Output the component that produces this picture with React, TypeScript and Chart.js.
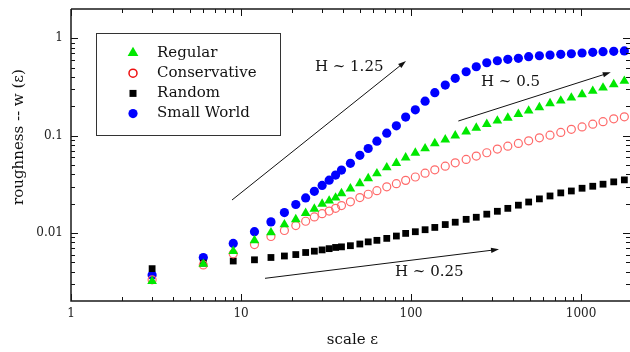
import React, { useEffect, useRef } from 'react';
import { Chart, registerables } from 'chart.js';

Chart.register(...registerables);

// ---- data ----
const scaleX = [3, 6, 9, 12, 15, 18, 21, 24, 27, 30, 33, 36, 39, 44, 50, 56, 63, 72, 82, 93, 106, 121, 138, 159, 182, 211, 242, 279, 322, 371, 428, 492, 569, 657, 760, 877, 1014, 1172, 1347, 1557, 1798];
const regular = [0.0032, 0.0048, 0.0065, 0.0084, 0.0101, 0.0122, 0.0138, 0.016, 0.0177, 0.0199, 0.0214, 0.023, 0.0255, 0.0285, 0.0323, 0.0363, 0.0408, 0.047, 0.0522, 0.0595, 0.0665, 0.0738, 0.0832, 0.091, 0.1, 0.11, 0.12, 0.131, 0.142, 0.152, 0.166, 0.18, 0.195, 0.214, 0.228, 0.245, 0.265, 0.287, 0.31, 0.336, 0.364];
const conservative = [0.0033, 0.0047, 0.0061, 0.0076, 0.0092, 0.0106, 0.0119, 0.0132, 0.0146, 0.0158, 0.0168, 0.0179, 0.0191, 0.0209, 0.0231, 0.025, 0.0272, 0.0298, 0.0321, 0.0347, 0.0376, 0.0411, 0.0445, 0.0485, 0.0526, 0.0569, 0.0616, 0.0667, 0.0727, 0.078, 0.0832, 0.0885, 0.0949, 0.101, 0.108, 0.116, 0.123, 0.131, 0.139, 0.149, 0.156];
const random = [0.0043, 0.0049, 0.00515, 0.0053, 0.0056, 0.0058, 0.006, 0.0063, 0.0065, 0.0067, 0.0069, 0.0071, 0.0072, 0.0074, 0.0077, 0.0081, 0.0084, 0.0088, 0.0093, 0.0099, 0.0103, 0.0108, 0.0114, 0.0122, 0.0129, 0.0138, 0.0145, 0.0156, 0.0167, 0.0179, 0.0193, 0.0208, 0.0224, 0.024, 0.0258, 0.027, 0.0288, 0.0302, 0.0317, 0.0335, 0.0351];
const smallWorld = [0.0037, 0.0056, 0.0078, 0.0103, 0.013, 0.0162, 0.0196, 0.0229, 0.0268, 0.0308, 0.0349, 0.0393, 0.0443, 0.052, 0.0628, 0.0738, 0.0878, 0.106, 0.126, 0.155, 0.184, 0.226, 0.276, 0.331, 0.388, 0.453, 0.51, 0.561, 0.588, 0.608, 0.623, 0.647, 0.662, 0.673, 0.684, 0.694, 0.706, 0.718, 0.728, 0.735, 0.742];
const seriesNames = ['Regular', 'Conservative', 'Random', 'Small World'];

const xTickValues = [1, 10, 100, 1000];
const xTickLabels = ['1', '10', '100', '1000'];
const yTickValues = [0.01, 0.1, 1];
const yTickLabels = ['0.01', '0.1', '1'];
const xTitle = 'scale ε';
const yTitle = 'roughness -- w (ε)';

// slope annotations in data coordinates
const noteTexts = ['H ~ 1.25', 'H ~ 0.5', 'H ~ 0.25'];
const noteFrom = [[8.85, 0.0218], [189.8, 0.1413], [13.84, 0.00342]];
const noteTo = [[93.4, 0.584], [1495, 0.447], [329.3, 0.00679]];
const noteAt = [[27.2, 0.511], [258, 0.358], [80.5, 0.004]];

const X_MIN = 1;
const X_MAX = 1941;
const Y_MIN = 0.002;
const Y_MAX = 2;

// plot-area frame in canvas pixels
const AREA = { left: 71, top: 9, right: 630, bottom: 301 };

const FONT = "'DejaVu Serif', serif";
const GREEN = '#00e800';
const RED_PT = '#ff6a6a';
const RED_LEG = '#ee1010';
const BLUE = '#0000ff';

function drawMarker(ctx: CanvasRenderingContext2D, kind: number, x: number, y: number) {
  ctx.save();
  if (kind === 0) {
    const r = 6.2;
    ctx.fillStyle = GREEN;
    ctx.beginPath();
    ctx.moveTo(x, y - r);
    ctx.lineTo(x + r * Math.sin((2 * Math.PI) / 3), y - r * Math.cos((2 * Math.PI) / 3));
    ctx.lineTo(x + r * Math.sin((4 * Math.PI) / 3), y - r * Math.cos((4 * Math.PI) / 3));
    ctx.closePath();
    ctx.fill();
  } else if (kind === 1) {
    ctx.strokeStyle = RED_LEG;
    ctx.lineWidth = 1.5;
    ctx.beginPath();
    ctx.arc(x, y, 4, 0, Math.PI * 2);
    ctx.stroke();
  } else if (kind === 2) {
    ctx.fillStyle = '#000';
    ctx.fillRect(x - 3.5, y - 3.5, 7, 7);
  } else {
    ctx.fillStyle = BLUE;
    ctx.beginPath();
    ctx.arc(x, y, 4.6, 0, Math.PI * 2);
    ctx.fill();
  }
  ctx.restore();
}

const framePlugin = {
  id: 'frameNotes',
  afterLayout(chart: any) {
    const a = chart.chartArea;
    a.left = AREA.left;
    a.right = AREA.right;
    a.top = AREA.top;
    a.bottom = AREA.bottom;
    a.width = AREA.right - AREA.left;
    a.height = AREA.bottom - AREA.top;
    const xs = chart.scales.x;
    const ys = chart.scales.y;
    xs.left = AREA.left;
    xs.right = AREA.right;
    xs.width = AREA.right - AREA.left;
    xs.top = AREA.bottom;
    xs.bottom = chart.height;
    xs.height = chart.height - AREA.bottom;
    xs.configure();
    ys.left = 0;
    ys.right = AREA.left;
    ys.width = AREA.left;
    ys.top = AREA.top;
    ys.bottom = AREA.bottom;
    ys.height = AREA.bottom - AREA.top;
    ys.configure();
  },
  afterDraw(chart: any) {
    const { ctx, chartArea: a, scales } = chart;
    const xs = scales.x;
    const ys = scales.y;
    ctx.save();

    // tick marks (inward, all four sides)
    ctx.strokeStyle = '#111';
    ctx.lineWidth = 1;
    ctx.beginPath();
    for (let n = -3; n <= 4; n++) {
      for (let k = 1; k <= 9; k++) {
        const v = k * Math.pow(10, n);
        const len = k === 1 ? 7 : 4;
        if (v >= X_MIN && v <= X_MAX) {
          const px = Math.round(xs.getPixelForValue(v)) + 0.5;
          ctx.moveTo(px, a.bottom);
          ctx.lineTo(px, a.bottom - len);
          ctx.moveTo(px, a.top);
          ctx.lineTo(px, a.top + len);
        }
        if (v > Y_MIN * 1.0001 && v < Y_MAX * 0.9999) {
          const py = Math.round(ys.getPixelForValue(v)) + 0.5;
          ctx.moveTo(a.left, py);
          ctx.lineTo(a.left + len, py);
          ctx.moveTo(a.right, py);
          ctx.lineTo(a.right - len, py);
        }
      }
    }
    ctx.stroke();

    // frame
    ctx.strokeStyle = '#1a1a1a';
    ctx.lineWidth = 1.5;
    ctx.beginPath();
    ctx.moveTo(a.left, a.top);
    ctx.lineTo(a.left, a.bottom);
    ctx.lineTo(a.right, a.bottom);
    ctx.moveTo(a.left, a.top);
    ctx.lineTo(a.right, a.top);
    ctx.stroke();

    // slope arrows
    ctx.strokeStyle = '#111';
    ctx.fillStyle = '#111';
    ctx.lineWidth = 1;
    for (let i = 0; i < noteTexts.length; i++) {
      const x1 = xs.getPixelForValue(noteFrom[i][0]);
      const y1 = ys.getPixelForValue(noteFrom[i][1]);
      const x2 = xs.getPixelForValue(noteTo[i][0]);
      const y2 = ys.getPixelForValue(noteTo[i][1]);
      const ang = Math.atan2(y2 - y1, x2 - x1);
      const hl = 8;
      const hw = 2.6;
      ctx.beginPath();
      ctx.moveTo(x1, y1);
      ctx.lineTo(x2 - Math.cos(ang) * hl * 0.8, y2 - Math.sin(ang) * hl * 0.8);
      ctx.stroke();
      ctx.beginPath();
      ctx.moveTo(x2, y2);
      ctx.lineTo(x2 - Math.cos(ang) * hl - Math.sin(ang) * hw, y2 - Math.sin(ang) * hl + Math.cos(ang) * hw);
      ctx.lineTo(x2 - Math.cos(ang) * hl + Math.sin(ang) * hw, y2 - Math.sin(ang) * hl - Math.cos(ang) * hw);
      ctx.closePath();
      ctx.fill();

      ctx.font = `15px ${FONT}`;
      ctx.textAlign = 'left';
      ctx.textBaseline = 'middle';
      ctx.fillText(noteTexts[i], xs.getPixelForValue(noteAt[i][0]), ys.getPixelForValue(noteAt[i][1]));
    }

    // axis titles
    ctx.fillStyle = '#111';
    ctx.font = `15px ${FONT}`;
    ctx.textAlign = 'center';
    ctx.textBaseline = 'middle';
    ctx.fillText(xTitle, (a.left + a.right) / 2 + 2, 340);
    ctx.save();
    ctx.translate(19, 137);
    ctx.rotate(-Math.PI / 2);
    ctx.fillText(yTitle, 0, 0);
    ctx.restore();

    // legend
    const bx = 96.5, by = 33.5, bw = 184, bh = 102;
    ctx.fillStyle = '#fff';
    ctx.fillRect(bx, by, bw, bh);
    ctx.strokeStyle = '#333';
    ctx.lineWidth = 1;
    ctx.strokeRect(bx, by, bw, bh);
    ctx.font = `15px ${FONT}`;
    ctx.textAlign = 'left';
    ctx.textBaseline = 'middle';
    for (let i = 0; i < seriesNames.length; i++) {
      const cy = by + 19.5 + i * 20.2;
      drawMarker(ctx, i, 133, cy);
      ctx.fillStyle = '#111';
      ctx.fillText(seriesNames[i], 157, cy);
    }
    ctx.restore();
  },
};

export default function App() {
  const ref = useRef<HTMLCanvasElement | null>(null);

  useEffect(() => {
    if (!ref.current) return;
    const mk = (ys: number[]) => scaleX.map((x, i) => ({ x, y: ys[i] }));
    const chart = new Chart(ref.current, {
      type: 'scatter',
      data: {
        datasets: [
          {
            label: seriesNames[0],
            data: mk(regular),
            pointStyle: 'triangle',
            pointRadius: 5.6,
            backgroundColor: GREEN,
            borderColor: GREEN,
            borderWidth: 0,
          },
          {
            label: seriesNames[1],
            data: mk(conservative),
            pointStyle: 'circle',
            pointRadius: 4,
            backgroundColor: 'rgba(0,0,0,0)',
            borderColor: RED_PT,
            borderWidth: 1.2,
          },
          {
            label: seriesNames[2],
            data: mk(random),
            pointStyle: 'rect',
            pointRadius: 4.8,
            backgroundColor: '#000',
            borderColor: '#000',
            borderWidth: 0,
          },
          {
            label: seriesNames[3],
            data: mk(smallWorld),
            pointStyle: 'circle',
            pointRadius: 4.6,
            backgroundColor: BLUE,
            borderColor: BLUE,
            borderWidth: 0,
          },
        ],
      },
      options: {
        responsive: false,
        animation: false,
        events: [],
        layout: { padding: { top: 9, right: 0, left: 0, bottom: 0 } },
        plugins: {
          legend: { display: false },
          tooltip: { enabled: false },
        },
        scales: {
          x: {
            type: 'logarithmic',
            bounds: 'data',
            min: X_MIN,
            max: X_MAX,
            grid: { display: false, drawTicks: false },
            border: { display: false },
            afterBuildTicks: (s: any) => {
              s.ticks = xTickValues.map((v) => ({ value: v }));
            },
            ticks: {
              autoSkip: false,
              maxRotation: 0,
              padding: 6,
              color: '#222',
              font: { family: FONT, size: 12 },
              callback: (v: any) => {
                const i = xTickValues.indexOf(Number(v));
                return i >= 0 ? xTickLabels[i] : '';
              },
            },
          },
          y: {
            type: 'logarithmic',
            bounds: 'data',
            min: Y_MIN,
            max: Y_MAX,
            grid: { display: false, drawTicks: false },
            border: { display: false },
            afterBuildTicks: (s: any) => {
              s.ticks = yTickValues.map((v) => ({ value: v }));
            },
            ticks: {
              autoSkip: false,
              padding: 8,
              color: '#222',
              font: { family: FONT, size: 12 },
              callback: (v: any) => {
                const i = yTickValues.indexOf(Number(v));
                return i >= 0 ? yTickLabels[i] : '';
              },
            },
          },
        },
      },
      plugins: [framePlugin],
    } as any);
    return () => chart.destroy();
  }, []);

  return (
    <div style={{ position: 'absolute', left: 0, top: 0, width: 630, height: 352, background: '#fff', overflow: 'hidden' }}>
      <canvas ref={ref} width={630} height={352} style={{ display: 'block', width: 630, height: 352 }} />
    </div>
  );
}
